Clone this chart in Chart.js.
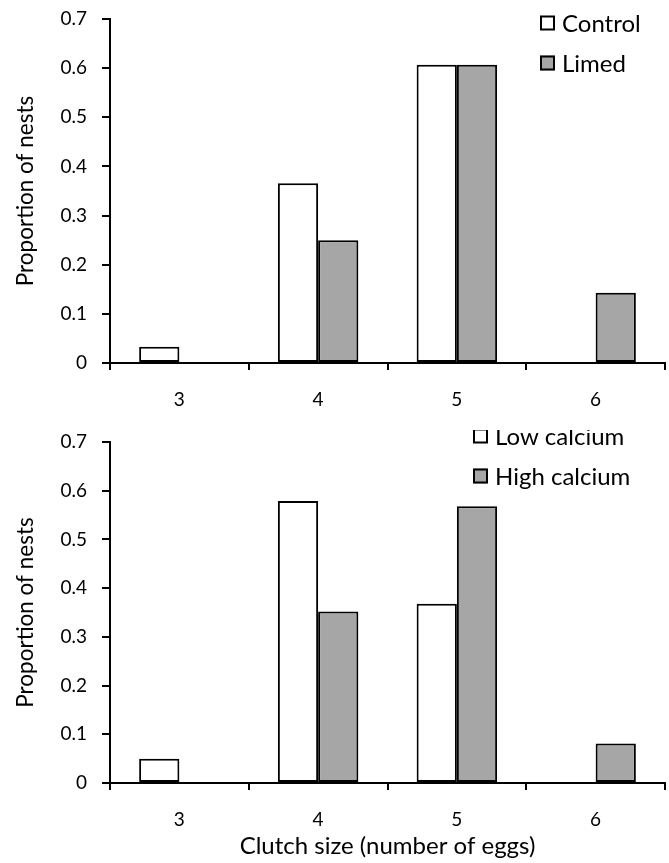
<!DOCTYPE html>
<html><head><meta charset="utf-8">
<script src="https://cdn.jsdelivr.net/npm/chart.js@4"></script>
<style>
html,body{margin:0;padding:0;background:#fff;width:669px;height:863px;overflow:hidden}
canvas{position:absolute;left:0}
</style></head><body>
<canvas id="c1" width="669" height="430" style="top:0"></canvas>
<canvas id="c2" width="669" height="433" style="top:430px"></canvas>
<script>
const categories = ['3', '4', '5', '6'];
const yTicks = [0, 0.1, 0.2, 0.3, 0.4, 0.5, 0.6, 0.7];

const topSeriesNames = ['Control', 'Limed'];
const controlValues = [0.033, 0.366, 0.607, 0];
const limedValues = [0, 0.25, 0.607, 0.143];

const bottomSeriesNames = ['Low calcium', 'High calcium'];
const lowCalciumValues = [0.05, 0.579, 0.368, 0];
const highCalciumValues = [0, 0.352, 0.568, 0.081];

const xTitle = 'Clutch size (number of eggs)';
const yTitle = 'Proportion of nests';

const FONT = 'Lato, "Open Sans", sans-serif';
const FILLS = ['#ffffff', '#a6a6a6'];

const legendPlugin = {
  id: 'boxLegend',
  afterDraw(chart, args, opts) {
    const ctx = chart.ctx;
    ctx.save();
    chart.data.datasets.forEach((ds, i) => {
      const cy = opts.y + i * opts.gap;
      const s = opts.box;
      ctx.fillStyle = ds.backgroundColor;
      ctx.fillRect(opts.x, cy - s / 2, s, s);
      ctx.lineWidth = 2;
      ctx.strokeStyle = '#000';
      ctx.strokeRect(opts.x + 1, cy - s / 2 + 1, s - 2, s - 2);
      ctx.fillStyle = '#000';
      ctx.font = opts.fontSize + 'px ' + FONT;
      ctx.textBaseline = 'middle';
      ctx.textAlign = 'left';
      ctx.fillText(ds.label, opts.x + s + opts.textGap, cy + 1);
    });
    ctx.restore();
  }
};

function makeChart(id, names, series, cfg) {
  return new Chart(document.getElementById(id), {
    type: 'bar',
    data: {
      labels: categories,
      datasets: series.map((vals, i) => ({
        label: names[i],
        data: vals,
        backgroundColor: FILLS[i],
        borderColor: '#000',
        borderWidth: 2,
        borderSkipped: false,
        categoryPercentage: 0.58,
        barPercentage: 1.0
      }))
    },
    options: {
      responsive: false,
      animation: false,
      devicePixelRatio: 1,
      layout: { padding: { top: cfg.top, right: 4, left: 0, bottom: 0 } },
      plugins: {
        legend: { display: false },
        tooltip: { enabled: false },
        boxLegend: cfg.legend
      },
      scales: {
        x: {
          grid: { display: true, drawOnChartArea: false, drawTicks: true, tickLength: 7, color: '#000', lineWidth: 2, offset: true },
          border: { display: true, color: '#000', width: 2 },
          ticks: { color: '#000', font: { family: FONT, size: 19 }, padding: 18 },
          title: cfg.xTitle ? { display: true, text: cfg.xTitle, color: '#000', font: { family: FONT, size: 24 }, padding: { top: 0, bottom: 2 } } : { display: false },
          afterFit(scale) { scale.height = cfg.xh; scale.paddingLeft = 0; scale.paddingRight = 0; }
        },
        y: {
          min: 0, max: 0.7,
          afterBuildTicks(scale) { scale.ticks = yTicks.map(v => ({ value: v })); },
          grid: { display: true, drawOnChartArea: false, drawTicks: true, tickLength: 8, color: '#000', lineWidth: 2 },
          border: { display: true, color: '#000', width: 2 },
          ticks: { color: '#000', font: { family: FONT, size: 19 }, padding: 15,
            callback: (v) => String(Math.round(v * 10) / 10) },
          title: { display: true, text: yTitle, color: '#000', font: { family: FONT, size: 22.5 }, padding: { top: 12, bottom: 0 } },
          afterFit(scale) { scale.width = 110; scale.paddingTop = 0; scale.paddingBottom = 0; }
        }
      }
    },
    plugins: [legendPlugin]
  });
}

makeChart('c1', topSeriesNames, [controlValues, limedValues], {
  top: 19, xh: 430 - 363,
  legend: { x: 540, y: 23, gap: 40, box: 15, textGap: 7, fontSize: 24 }
});
makeChart('c2', bottomSeriesNames, [lowCalciumValues, highCalciumValues], {
  top: 12, xh: 433 - 353, xTitle: xTitle,
  legend: { x: 473, y: 6, gap: 40, box: 15, textGap: 7, fontSize: 24 }
});
</script>
</body></html>
